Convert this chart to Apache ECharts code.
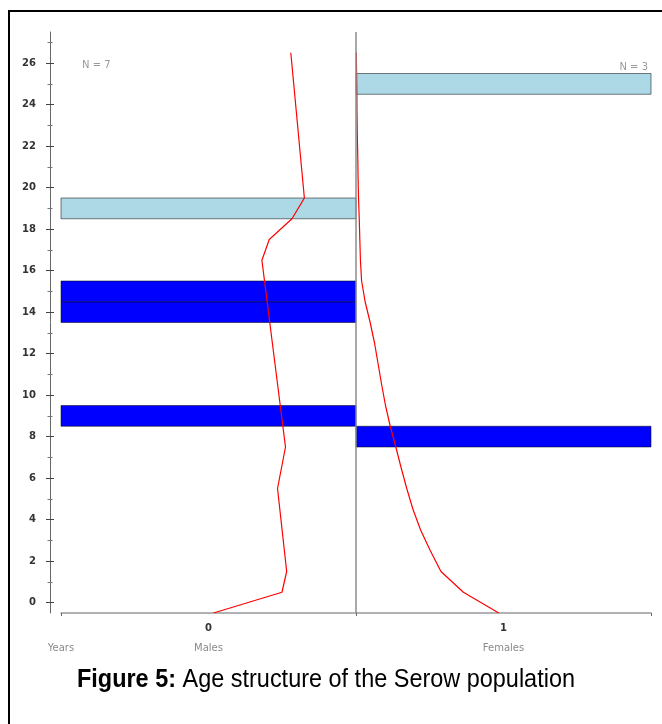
<!DOCTYPE html>
<html>
<head>
<meta charset="utf-8">
<script src="https://cdn.jsdelivr.net/npm/echarts@6/dist/echarts.min.js"></script>
<style>
html,body{margin:0;padding:0;background:#fff;}
#chart{width:662px;height:724px;}
</style>
</head>
<body>
<div id="chart"></div>
<script>
// ---- data ----
const sideLabels = ['Males', 'Females'];
const sideTickLabels = ['0', '1'];
const yTickLabels = [0, 2, 4, 6, 8, 10, 12, 14, 16, 18, 20, 22, 24, 26];
const yMinorTicks = [1, 3, 5, 7, 9, 11, 13, 15, 17, 19, 21, 23, 25, 27];
const nMales = 7;
const nFemales = 3;

// bars (age class, count)
const maleBarAges = [9, 14, 15];
const maleBarCounts = [1, 1, 1];
const maleLightBarAges = [19];
const maleLightBarCounts = [1];
const femaleBarAges = [8];
const femaleBarCounts = [1];
const femaleLightBarAges = [25];
const femaleLightBarCounts = [1];

// red curves
const maleCurveAges = [-0.5, 0.5, 1.5, 5.5, 7.5, 16.5, 17.5, 18.5, 19.5, 26.5];
const maleCurveValues = [0.483, 0.251, 0.235, 0.266, 0.239, 0.319, 0.294, 0.217, 0.175, 0.221];
const femaleCurveAges = [-0.5, 0.5, 1.5, 2.5, 3.5, 4.5, 5.5, 6.5, 7.5, 8.5, 9.5, 10.5, 11.5, 12.5,
  13.5, 14.5, 15.5, 16.5, 17.5, 18.5, 19.5, 20.5, 21.5, 22.5, 23.5, 24.5, 25.5, 26.5];
const femaleCurveValues = [0.484, 0.364, 0.288, 0.252, 0.219, 0.193, 0.172, 0.153, 0.135, 0.116,
  0.100, 0.087, 0.075, 0.063, 0.048, 0.031, 0.019, 0.015, 0.013, 0.011, 0.0085, 0.007, 0.006,
  0.0045, 0.0035, 0.003, 0.002, 0.001];

// ---- build ----
const DARK = '#0000ff', LIGHT = '#add8e6';
function barData(ages, counts, side, kind) {
  return ages.map((a, i) => [side * counts[i], a, kind]);
}
const barsAll = []
  .concat(barData(maleBarAges, maleBarCounts, -1, 0))
  .concat(barData(maleLightBarAges, maleLightBarCounts, -1, 1))
  .concat(barData(femaleBarAges, femaleBarCounts, 1, 0))
  .concat(barData(femaleLightBarAges, femaleLightBarCounts, 1, 1));

const maleCurve = maleCurveAges.map((a, i) => [-maleCurveValues[i], a]);
const femaleCurve = femaleCurveAges.map((a, i) => [femaleCurveValues[i], a]);

const yMin = -0.5, yMax = 27.5;
function yAx(opts) {
  return Object.assign({
    type: 'value', min: yMin, max: yMax, position: 'left', offset: 11,
    splitLine: { show: false },
    axisLine: { show: false, onZero: false },
    axisLabel: { show: false },
    axisTick: { show: false }
  }, opts);
}

const chart = echarts.init(document.getElementById('chart'), null, { renderer: 'canvas' });
chart.setOption({
  animation: false,
  backgroundColor: '#fff',
  grid: { left: 61, right: 11, top: 32, bottom: 111 },
  xAxis: {
    type: 'value', min: -1, max: 1,
    splitLine: { show: false },
    axisLine: { show: true, onZero: false, lineStyle: { color: '#999', width: 1.5 } },
    axisTick: { show: true, customValues: [-1, 0, 1], length: 3, lineStyle: { color: '#666' } },
    axisLabel: {
      customValues: [-1, -0.5, 0.5],
      margin: 5,
      formatter: function (v) {
        if (v === -1) return '{e|}\n{n|Years}';
        if (v === -0.5) return '{t|' + sideTickLabels[0] + '}\n{n|' + sideLabels[0] + '}';
        return '{t|' + sideTickLabels[1] + '}\n{n|' + sideLabels[1] + '}';
      },
      rich: {
        t: { fontFamily: 'DejaVu Sans', fontSize: 10, fontWeight: 'bold', color: '#333', lineHeight: 20 },
        e: { fontSize: 10, lineHeight: 20 },
        n: { fontFamily: 'DejaVu Sans', fontSize: 10, color: '#8a8a8a', lineHeight: 20 }
      }
    }
  },
  yAxis: [
    yAx({
      axisLine: { show: true, onZero: false, lineStyle: { color: '#666', width: 1 } },
      axisLabel: {
        show: true, customValues: yTickLabels, margin: 14,
        fontFamily: 'DejaVu Sans', fontSize: 10, fontWeight: 'bold', color: '#333'
      },
      axisTick: { show: true, customValues: yTickLabels, length: 4, lineStyle: { color: '#444' } }
    }),
    yAx({ axisTick: { show: true, inside: true, customValues: yTickLabels, length: 4, lineStyle: { color: '#444' } } }),
    yAx({ axisTick: { show: true, customValues: yMinorTicks, length: 2.5, lineStyle: { color: '#777' } } }),
    yAx({ axisTick: { show: true, inside: true, customValues: yMinorTicks, length: 2.5, lineStyle: { color: '#777' } } })
  ],
  graphic: [
    { type: 'rect', shape: { x: 9, y: 11, width: 700, height: 800 },
      style: { fill: 'none', stroke: '#000', lineWidth: 2 }, z: 100, silent: true },
    { type: 'text', x: 82, y: 65,
      style: { text: 'N = ' + nMales, font: '10px "DejaVu Sans"', fill: '#999', textVerticalAlign: 'middle' } },
    { type: 'text', x: 648, y: 67,
      style: { text: 'N = ' + nFemales, font: '10px "DejaVu Sans"', fill: '#999', textAlign: 'right', textVerticalAlign: 'middle' } },
    { type: 'text', x: 77, y: 680, scaleX: 0.885, originX: 0, originY: 0,
      style: {
        text: '{b|Figure 5:} Age structure of the Serow population',
        font: '26.5px "Liberation Sans"', fill: '#000', textVerticalAlign: 'middle',
        rich: { b: { fontWeight: 'bold', fontSize: 26.5, fontFamily: 'Liberation Sans', fill: '#000' } }
      } }
  ],
  series: [
    {
      type: 'custom',
      coordinateSystem: 'cartesian2d',
      xAxisIndex: 0, yAxisIndex: 0,
      data: barsAll,
      z: 2,
      renderItem: function (params, api) {
        const x = api.value(0), age = api.value(1), kind = api.value(2);
        const p1 = api.coord([Math.min(0, x), age + 0.5]);
        const p2 = api.coord([Math.max(0, x), age - 0.5]);
        return {
          type: 'rect',
          shape: { x: p1[0], y: p1[1], width: p2[0] - p1[0], height: p2[1] - p1[1] },
          style: { fill: kind === 0 ? DARK : LIGHT, stroke: 'rgba(0,0,0,0.5)', lineWidth: 1 }
        };
      }
    },
    {
      type: 'line', xAxisIndex: 0, yAxisIndex: 0,
      data: [], z: 3,
      markLine: {
        silent: true, symbol: ['none', 'none'], label: { show: false },
        lineStyle: { color: '#8c8c8c', width: 1.5, type: 'solid' },
        data: [{ xAxis: 0 }]
      }
    },
    {
      type: 'line', xAxisIndex: 0, yAxisIndex: 0, data: maleCurve,
      showSymbol: false, symbol: 'none', z: 4,
      lineStyle: { color: '#ff0000', width: 1.2 }
    },
    {
      type: 'line', xAxisIndex: 0, yAxisIndex: 0, data: femaleCurve,
      showSymbol: false, symbol: 'none', z: 4,
      lineStyle: { color: '#ff0000', width: 1.2 }
    }
  ]
});
</script>
</body>
</html>
